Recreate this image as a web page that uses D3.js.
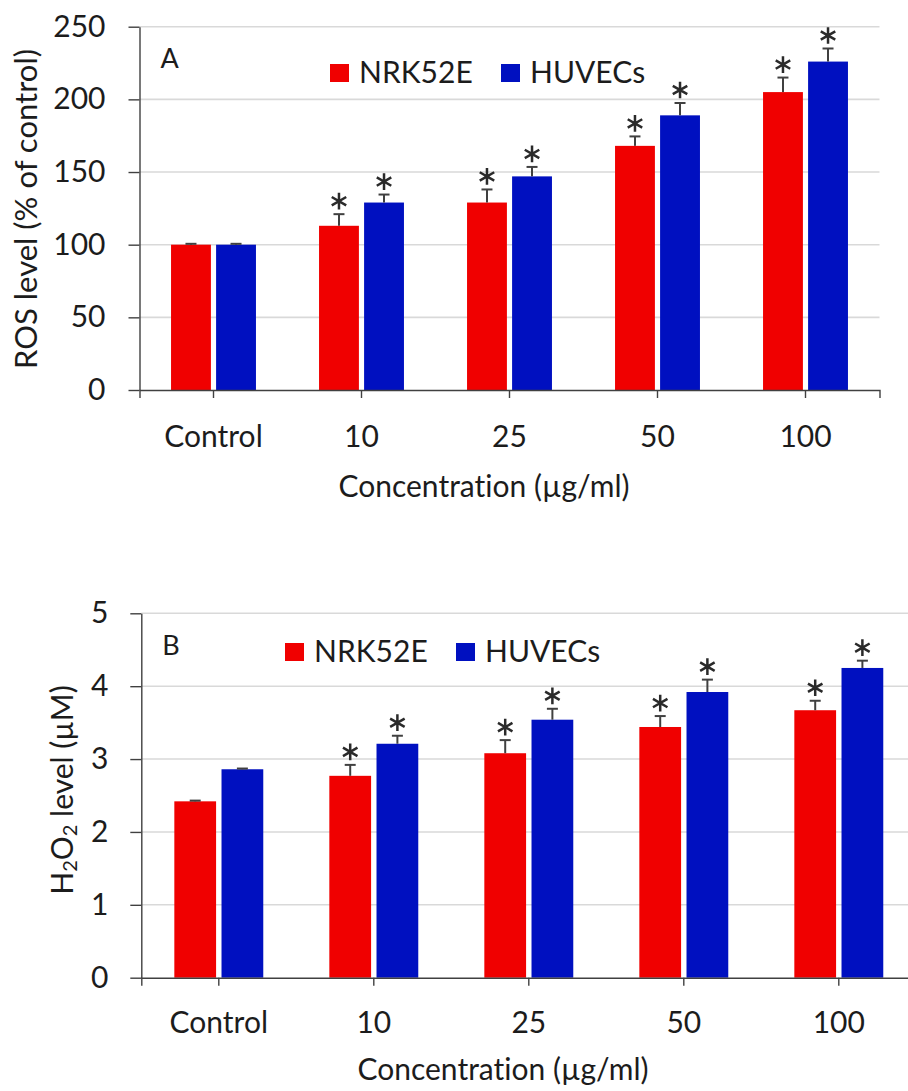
<!DOCTYPE html>
<html>
<head>
<meta charset="utf-8">
<script src="https://cdn.jsdelivr.net/npm/d3@7"></script>
<style>
  body { margin: 0; background: #fff; }
  text { font-family: Lato, "Open Sans", sans-serif; fill: #1c1c1c; font-variant-ligatures: none; }
</style>
</head>
<body>
<script>
// Data
const categories = ["Control", "10", "25", "50", "100"];
const seriesNames = ["NRK52E", "HUVECs"];
const significant = [false, true, true, true, true];

// Panel A: ROS level (% of control)
const rosNRK = [100, 113, 129, 168, 205];
const rosNRKErr = [0.6, 8, 9, 6.5, 10];
const rosHUV = [100, 129, 147, 189, 226];
const rosHUVErr = [0.6, 5.5, 6.5, 8.5, 9];

// Panel B: H2O2 level (uM)
const h2o2NRK = [2.42, 2.77, 3.08, 3.44, 3.67];
const h2o2NRKErr = [0.01, 0.15, 0.18, 0.15, 0.13];
const h2o2HUV = [2.86, 3.21, 3.54, 3.92, 4.25];
const h2o2HUVErr = [0.01, 0.11, 0.15, 0.17, 0.10];

const colors = { "NRK52E": "#f00000", "HUVECs": "#0010c0" };
const fontSize = 30;

const svg = d3.select("body").append("svg")
    .attr("width", 908)
    .attr("height", 1091);

// six-armed asterisk as a custom symbol type
const asterisk = {
    draw(context, size) {
        const r = Math.sqrt(size) / 2;
        [90, 30, -30].forEach(a => {
            const t = a * Math.PI / 180;
            context.moveTo(Math.cos(t) * r, -Math.sin(t) * r);
            context.lineTo(-Math.cos(t) * r, Math.sin(t) * r);
        });
    }
};

function drawPanel(p) {
    const g = svg.append("g");

    // Scales
    const x = d3.scaleBand()
        .domain(categories)
        .range([p.left, p.right]);

    const x1 = d3.scaleBand()
        .domain(seriesNames)
        .range([0, x.bandwidth()])
        .paddingInner(0.115)
        .paddingOuter(0.7);

    const y = d3.scaleLinear()
        .domain([0, p.yMax])
        .range([p.bottom, p.top]);

    // Gridlines
    g.append("g").selectAll("line")
        .data(y.ticks(5).filter(d => d > 0))
        .join("line")
        .attr("x1", p.left)
        .attr("x2", p.right)
        .attr("y1", d => y(d))
        .attr("y2", d => y(d))
        .attr("stroke", "#d9d9d9")
        .attr("stroke-width", 1.6);

    // Bars
    const rows = [];
    categories.forEach((c, i) => {
        rows.push({ cat: c, s: "NRK52E", v: p.nrk[i], e: p.nrkErr[i], sig: significant[i] });
        rows.push({ cat: c, s: "HUVECs", v: p.huv[i], e: p.huvErr[i], sig: significant[i] });
    });

    g.append("g").selectAll("rect")
        .data(rows)
        .join("rect")
        .attr("x", d => x(d.cat) + x1(d.s))
        .attr("width", x1.bandwidth())
        .attr("y", d => y(d.v))
        .attr("height", d => y(0) - y(d.v))
        .attr("fill", d => colors[d.s]);

    // Error bars (upper only)
    const cx = d => x(d.cat) + x1(d.s) + x1.bandwidth() / 2;
    const err = g.append("g")
        .attr("stroke", "#404040")
        .attr("stroke-width", 2);

    err.selectAll(".stem")
        .data(rows)
        .join("line")
        .attr("class", "stem")
        .attr("x1", cx).attr("x2", cx)
        .attr("y1", d => y(d.v))
        .attr("y2", d => y(d.v + d.e));

    err.selectAll(".cap")
        .data(rows)
        .join("line")
        .attr("class", "cap")
        .attr("x1", d => cx(d) - 5.5).attr("x2", d => cx(d) + 5.5)
        .attr("y1", d => y(d.v + d.e))
        .attr("y2", d => y(d.v + d.e));

    // Significance asterisks
    g.append("g").selectAll("path")
        .data(rows.filter(d => d.sig))
        .join("path")
        .attr("transform", d => `translate(${cx(d)},${y(d.v + d.e) - 13})`)
        .attr("d", d3.symbol().type(asterisk).size(280))
        .attr("fill", "none")
        .attr("stroke", "#2a2a2a")
        .attr("stroke-width", 2.5);

    // Axes
    const yAxis = g.append("g")
        .attr("transform", `translate(${p.left},0)`)
        .call(d3.axisLeft(y).ticks(5).tickSize(11).tickSizeOuter(0).tickPadding(p.yPad));

    const xAxis = g.append("g")
        .attr("transform", `translate(0,${p.bottom})`)
        .call(d3.axisBottom(x).tickSize(8).tickSizeOuter(8).tickPadding(p.xPad));

    [yAxis, xAxis].forEach(a => {
        a.select(".domain").attr("stroke", "#404040").attr("stroke-width", 1.4);
        a.selectAll(".tick line").attr("stroke", "#404040").attr("stroke-width", 1.4);
        a.selectAll("text").attr("font-size", fontSize).attr("fill", "#1c1c1c")
            .attr("font-family", "Lato, 'Open Sans', sans-serif");
    });

    // Axis titles
    g.append("text")
        .attr("x", p.xTitleX)
        .attr("y", p.xTitleY)
        .attr("text-anchor", "middle")
        .attr("font-size", fontSize)
        .text("Concentration (µg/ml)");

    const yt = g.append("text")
        .attr("transform", `translate(${p.yTitleX},${p.yTitleY}) rotate(-90)`)
        .attr("text-anchor", "middle")
        .attr("font-size", p.yTitleSize);
    p.yTitle.forEach(part => {
        yt.append("tspan")
            .attr("font-size", part.sub ? 20 : p.yTitleSize)
            .attr("dy", part.dy || 0)
            .text(part.t);
    });

    // Panel letter
    g.append("text")
        .attr("x", p.left + 21)
        .attr("y", p.letterY)
        .attr("font-size", 27)
        .text(p.letter);

    // Legend
    const leg = g.append("g").selectAll("g")
        .data(seriesNames)
        .join("g")
        .attr("transform", (d, i) => `translate(${p.legendX[i]},${p.legendY})`);

    leg.append("rect")
        .attr("x", 0).attr("y", -18)
        .attr("width", 19).attr("height", 18)
        .attr("fill", d => colors[d]);

    leg.append("text")
        .attr("x", 29)
        .attr("y", 1)
        .attr("font-size", fontSize)
        .text(d => d);
}

drawPanel({
    left: 139.5, right: 879.5, top: 26.7, bottom: 390,
    yMax: 250, yPad: 23, xPad: 28,
    nrk: rosNRK, nrkErr: rosNRKErr, huv: rosHUV, huvErr: rosHUVErr,
    xTitleX: 484, xTitleY: 497,
    yTitleX: 37, yTitleY: 209, yTitleSize: 31,
    yTitle: [{ t: "ROS level (% of control)" }],
    letter: "A", letterY: 68,
    legendX: [330, 501], legendY: 82
});

drawPanel({
    left: 141.3, right: 916.3, top: 613.3, bottom: 977.7,
    yMax: 5, yPad: 22, xPad: 26,
    nrk: h2o2NRK, nrkErr: h2o2NRKErr, huv: h2o2HUV, huvErr: h2o2HUVErr,
    xTitleX: 503, xTitleY: 1080,
    yTitleX: 73, yTitleY: 790, yTitleSize: 30,
    yTitle: [
        { t: "H" },
        { t: "2", sub: true, dy: 4 },
        { t: "O", dy: -4 },
        { t: "2", sub: true, dy: 4 },
        { t: " level (µM)", dy: -4 }
    ],
    letter: "B", letterY: 655,
    legendX: [285, 456], legendY: 661
});
</script>
</body>
</html>
